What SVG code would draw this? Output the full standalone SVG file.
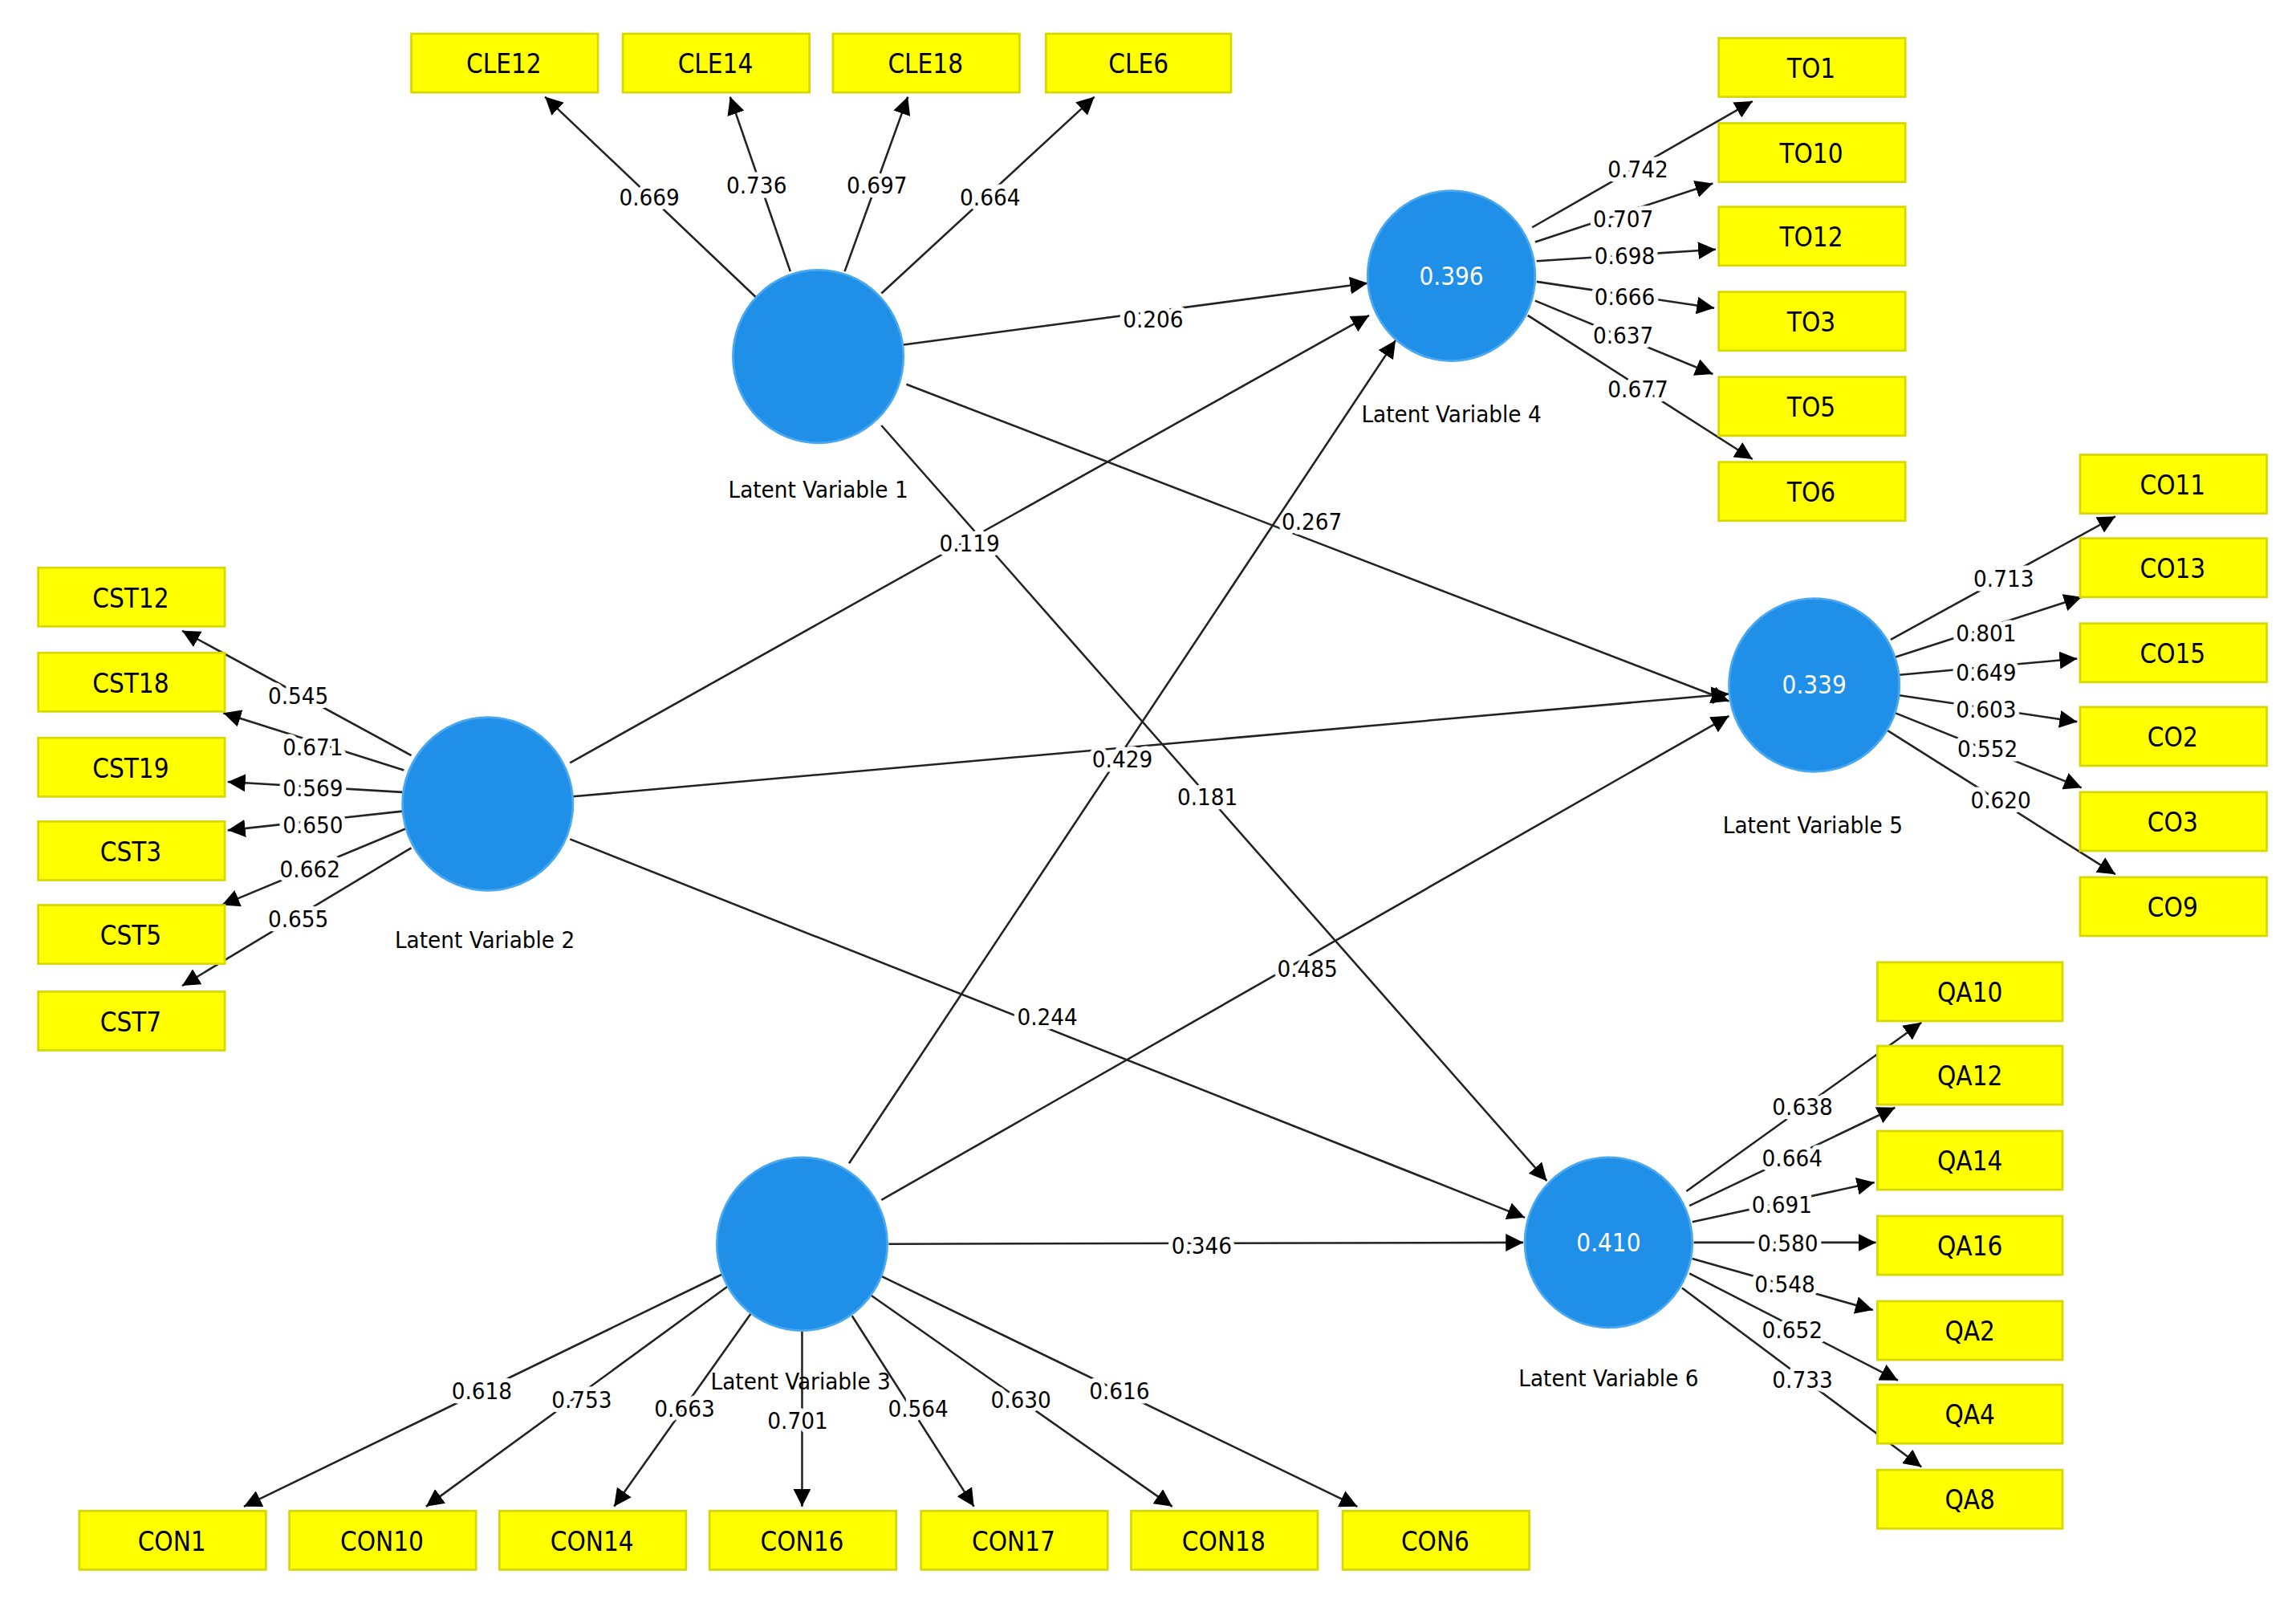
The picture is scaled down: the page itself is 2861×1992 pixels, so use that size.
<svg xmlns="http://www.w3.org/2000/svg" width="2861" height="1992" viewBox="0 0 2861 1992">
<defs>
<marker id="ar" viewBox="0 0 10 10" refX="10" refY="5" markerWidth="12" markerHeight="12" markerUnits="userSpaceOnUse" orient="auto"><path d="M0,0L10,5L0,10z" fill="#000"/></marker>
<style>
.b rect{fill:#ffff00;stroke:#d8d800;stroke-width:1.5}
.b text{font-family:"DejaVu Sans Condensed","Liberation Sans",sans-serif;font-size:18px;text-anchor:middle;fill:#000}
.c{fill:#1f8fe8;stroke:#4aa8f0;stroke-width:1.5}
.cv{font-family:"DejaVu Sans Condensed","Liberation Sans",sans-serif;font-size:17px;text-anchor:middle;fill:#fff}
.lb{font-family:"DejaVu Sans Condensed","Liberation Sans",sans-serif;font-size:16px;text-anchor:middle;fill:#000}
#edges line{stroke:#222;stroke-width:1.4;marker-end:url(#ar)}
#edges text{font-family:"DejaVu Sans Condensed","Liberation Sans",sans-serif;font-size:16px;text-anchor:middle;fill:#000;stroke:#fff;stroke-width:6;paint-order:stroke;stroke-linejoin:round}
</style>
</defs>
<rect width="2861" height="1992" fill="#fff"/>
<g transform="scale(1.8305,1.8275)">
<g id="edges">
<line x1="615" y1="235" x2="931" y2="193"/><text x="785" y="223">0.206</text>
<line x1="617" y1="262" x2="1177" y2="478"/><text x="893" y="361">0.267</text>
<line x1="600" y1="290" x2="1053" y2="805"/><text x="822" y="549">0.181</text>
<line x1="388" y1="520" x2="932" y2="215"/><text x="660" y="376">0.119</text>
<line x1="390" y1="543" x2="1177" y2="473"/>
<line x1="388" y1="572" x2="1038" y2="830"/><text x="713" y="699">0.244</text>
<line x1="578" y1="793" x2="950" y2="232"/><text x="764" y="523">0.429</text>
<line x1="600" y1="818" x2="1177" y2="488"/><text x="890" y="666">0.485</text>
<line x1="605" y1="848" x2="1037" y2="847"/><text x="818" y="855">0.346</text>

<line x1="515" y1="203" x2="371" y2="66"/><text x="442" y="140">0.669</text>
<line x1="538" y1="185" x2="497" y2="66"/><text x="515" y="132">0.736</text>
<line x1="575" y1="185" x2="618" y2="66"/><text x="597" y="132">0.697</text>
<line x1="600" y1="200" x2="745" y2="66"/><text x="674" y="140">0.664</text>

<line x1="1043" y1="155" x2="1193" y2="69"/><text x="1115" y="121">0.742</text>
<line x1="1045" y1="165" x2="1166" y2="125"/><text x="1105" y="155">0.707</text>
<line x1="1046" y1="178" x2="1168" y2="170"/><text x="1106" y="180">0.698</text>
<line x1="1046" y1="192" x2="1167" y2="210"/><text x="1106" y="208">0.666</text>
<line x1="1045" y1="205" x2="1166" y2="255"/><text x="1105" y="234">0.637</text>
<line x1="1040" y1="215" x2="1193" y2="313"/><text x="1115" y="271">0.677</text>

<line x1="1287" y1="436" x2="1440" y2="352"/><text x="1364" y="400">0.713</text>
<line x1="1290" y1="448" x2="1417" y2="407"/><text x="1352" y="437">0.801</text>
<line x1="1293" y1="460" x2="1414" y2="449"/><text x="1352" y="464">0.649</text>
<line x1="1293" y1="474" x2="1414" y2="492"/><text x="1352" y="489">0.603</text>
<line x1="1290" y1="486" x2="1417" y2="537"/><text x="1353" y="516">0.552</text>
<line x1="1285" y1="498" x2="1440" y2="596"/><text x="1362" y="551">0.620</text>

<line x1="280" y1="515" x2="124" y2="430"/><text x="203" y="480">0.545</text>
<line x1="275" y1="525" x2="152" y2="486"/><text x="213" y="515">0.671</text>
<line x1="274" y1="540" x2="155" y2="533"/><text x="213" y="543">0.569</text>
<line x1="274" y1="553" x2="155" y2="566"/><text x="213" y="568">0.650</text>
<line x1="276" y1="565" x2="151" y2="617"/><text x="211" y="598">0.662</text>
<line x1="280" y1="578" x2="124" y2="672"/><text x="203" y="632">0.655</text>

<line x1="1148" y1="812" x2="1308" y2="697"/><text x="1227" y="760">0.638</text>
<line x1="1150" y1="822" x2="1290" y2="755"/><text x="1220" y="795">0.664</text>
<line x1="1152" y1="833" x2="1276" y2="806"/><text x="1213" y="827">0.691</text>
<line x1="1153" y1="847" x2="1277" y2="847"/><text x="1217" y="853">0.580</text>
<line x1="1152" y1="858" x2="1275" y2="893"/><text x="1215" y="881">0.548</text>
<line x1="1150" y1="868" x2="1292" y2="941"/><text x="1220" y="912">0.652</text>
<line x1="1145" y1="878" x2="1308" y2="1000"/><text x="1227" y="946">0.733</text>

<line x1="493" y1="868" x2="166" y2="1027"/><text x="328" y="954">0.618</text>
<line x1="498" y1="875" x2="290" y2="1027"/><text x="396" y="960">0.753</text>
<line x1="515" y1="890" x2="418" y2="1027"/><text x="466" y="966">0.663</text>
<line x1="546" y1="906" x2="546" y2="1027"/><text x="543" y="974">0.701</text>
<line x1="580" y1="897" x2="663" y2="1027"/><text x="625" y="966">0.564</text>
<line x1="593" y1="883" x2="798" y2="1027"/><text x="695" y="960">0.630</text>
<line x1="600" y1="870" x2="924" y2="1027"/><text x="762" y="954">0.616</text>
</g>

<g id="LV1"><ellipse class="c" cx="557" cy="243" rx="58" ry="59"/><text class="lb" x="557" y="339">Latent Variable 1</text></g>
<g id="LV2"><ellipse class="c" cx="332" cy="548" rx="58" ry="59"/><text class="lb" x="330" y="646">Latent Variable 2</text></g>
<g id="LV3"><ellipse class="c" cx="546" cy="848" rx="58" ry="59"/><text class="lb" x="545" y="947">Latent Variable 3</text></g>
<g id="LV4"><ellipse class="c" cx="988" cy="188" rx="57" ry="58"/><text class="cv" x="988" y="194">0.396</text><text class="lb" x="988" y="288">Latent Variable 4</text></g>
<g id="LV5"><ellipse class="c" cx="1235" cy="467" rx="58" ry="59"/><text class="cv" x="1235" y="473">0.339</text><text class="lb" x="1234" y="568">Latent Variable 5</text></g>
<g id="LV6"><ellipse class="c" cx="1095" cy="847" rx="57" ry="58"/><text class="cv" x="1095" y="853">0.410</text><text class="lb" x="1095" y="945">Latent Variable 6</text></g>

<g class="b" id="CLE12"><rect x="280" y="23" width="127" height="40"/><text x="343" y="50">CLE12</text></g>
<g class="b" id="CLE14"><rect x="424" y="23" width="127" height="40"/><text x="487" y="50">CLE14</text></g>
<g class="b" id="CLE18"><rect x="567" y="23" width="127" height="40"/><text x="630" y="50">CLE18</text></g>
<g class="b" id="CLE6"><rect x="712" y="23" width="126" height="40"/><text x="775" y="50">CLE6</text></g>

<g class="b" id="TO1"><rect x="1170" y="26" width="127" height="40"/><text x="1233" y="53">TO1</text></g>
<g class="b" id="TO10"><rect x="1170" y="84" width="127" height="40"/><text x="1233" y="111">TO10</text></g>
<g class="b" id="TO12"><rect x="1170" y="141" width="127" height="40"/><text x="1233" y="168">TO12</text></g>
<g class="b" id="TO3"><rect x="1170" y="199" width="127" height="40"/><text x="1233" y="226">TO3</text></g>
<g class="b" id="TO5"><rect x="1170" y="257" width="127" height="40"/><text x="1233" y="284">TO5</text></g>
<g class="b" id="TO6"><rect x="1170" y="315" width="127" height="40"/><text x="1233" y="342">TO6</text></g>

<g class="b" id="CO11"><rect x="1416" y="310" width="127" height="40"/><text x="1479" y="337">CO11</text></g>
<g class="b" id="CO13"><rect x="1416" y="367" width="127" height="40"/><text x="1479" y="394">CO13</text></g>
<g class="b" id="CO15"><rect x="1416" y="425" width="127" height="40"/><text x="1479" y="452">CO15</text></g>
<g class="b" id="CO2"><rect x="1416" y="482" width="127" height="40"/><text x="1479" y="509">CO2</text></g>
<g class="b" id="CO3"><rect x="1416" y="540" width="127" height="40"/><text x="1479" y="567">CO3</text></g>
<g class="b" id="CO9"><rect x="1416" y="598" width="127" height="40"/><text x="1479" y="625">CO9</text></g>

<g class="b" id="CST12"><rect x="26" y="387" width="127" height="40"/><text x="89" y="414">CST12</text></g>
<g class="b" id="CST18"><rect x="26" y="445" width="127" height="40"/><text x="89" y="472">CST18</text></g>
<g class="b" id="CST19"><rect x="26" y="503" width="127" height="40"/><text x="89" y="530">CST19</text></g>
<g class="b" id="CST3"><rect x="26" y="560" width="127" height="40"/><text x="89" y="587">CST3</text></g>
<g class="b" id="CST5"><rect x="26" y="617" width="127" height="40"/><text x="89" y="644">CST5</text></g>
<g class="b" id="CST7"><rect x="26" y="676" width="127" height="40"/><text x="89" y="703">CST7</text></g>

<g class="b" id="QA10"><rect x="1278" y="656" width="126" height="40"/><text x="1341" y="683">QA10</text></g>
<g class="b" id="QA12"><rect x="1278" y="713" width="126" height="40"/><text x="1341" y="740">QA12</text></g>
<g class="b" id="QA14"><rect x="1278" y="771" width="126" height="40"/><text x="1341" y="798">QA14</text></g>
<g class="b" id="QA16"><rect x="1278" y="829" width="126" height="40"/><text x="1341" y="856">QA16</text></g>
<g class="b" id="QA2"><rect x="1278" y="887" width="126" height="40"/><text x="1341" y="914">QA2</text></g>
<g class="b" id="QA4"><rect x="1278" y="944" width="126" height="40"/><text x="1341" y="971">QA4</text></g>
<g class="b" id="QA8"><rect x="1278" y="1002" width="126" height="40"/><text x="1341" y="1029">QA8</text></g>

<g class="b" id="CON1"><rect x="54" y="1030" width="127" height="40"/><text x="117" y="1057">CON1</text></g>
<g class="b" id="CON10"><rect x="197" y="1030" width="127" height="40"/><text x="260" y="1057">CON10</text></g>
<g class="b" id="CON14"><rect x="340" y="1030" width="127" height="40"/><text x="403" y="1057">CON14</text></g>
<g class="b" id="CON16"><rect x="483" y="1030" width="127" height="40"/><text x="546" y="1057">CON16</text></g>
<g class="b" id="CON17"><rect x="627" y="1030" width="127" height="40"/><text x="690" y="1057">CON17</text></g>
<g class="b" id="CON18"><rect x="770" y="1030" width="127" height="40"/><text x="833" y="1057">CON18</text></g>
<g class="b" id="CON6"><rect x="914" y="1030" width="127" height="40"/><text x="977" y="1057">CON6</text></g>
</g>
</svg>
